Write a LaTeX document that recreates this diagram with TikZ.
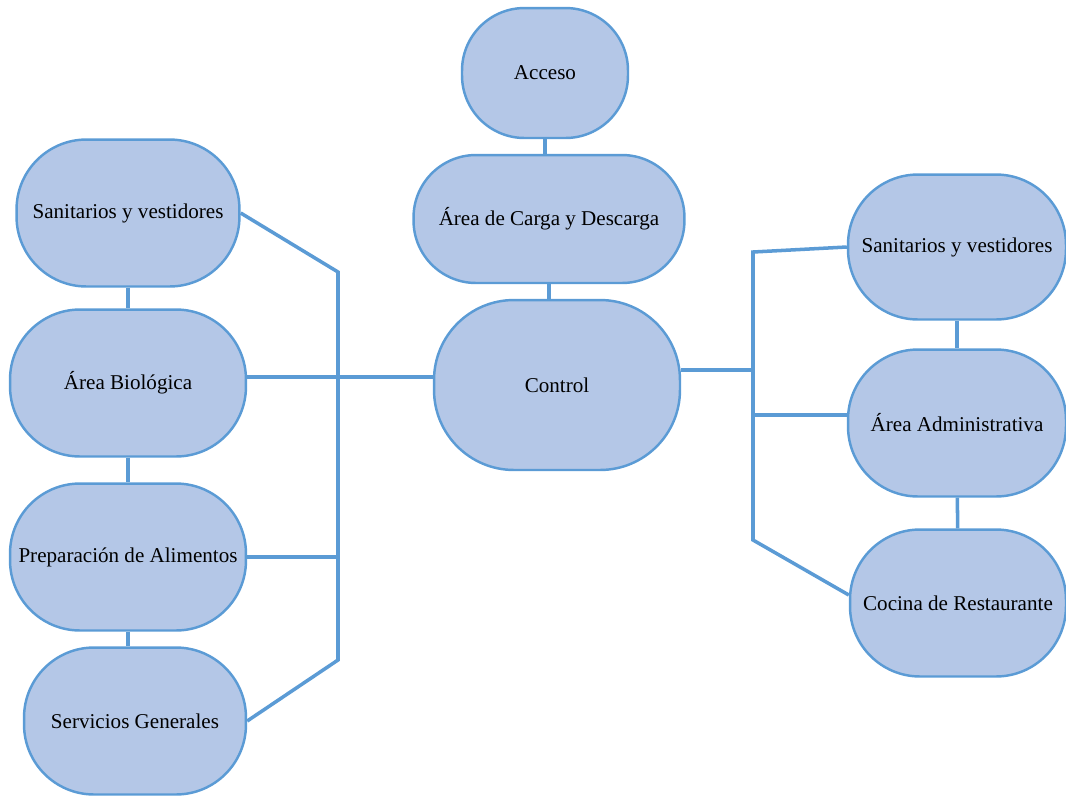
\documentclass[tikz,border=0pt]{standalone}
\usepackage{fontspec}
\setmainfont{Liberation Serif}
\usepackage{tikz}
\usetikzlibrary{positioning,calc}
\definecolor{cajaAzul}{HTML}{B4C7E7}
\definecolor{bordeAzul}{HTML}{5B9BD5}

\begin{document}
\begin{tikzpicture}[x=0.02cm, y=-0.02cm, font=\fontsize{12}{14}\selectfont,
  zona/.style={draw=bordeAzul, fill=cajaAzul, line width=1.4pt, rounded corners=1.4cm, align=center, inner sep=2pt},
  enlace/.style={draw=bordeAzul, line width=2pt}]
  \useasboundingbox (0,0) rectangle (1066,796);
  % columna central
  \node[zona, rounded corners=1.25cm, minimum width=3.32cm, minimum height=2.6cm] (acceso) at (545,73) {Acceso};
  \node[zona, rounded corners=1.25cm, minimum width=5.42cm, minimum height=2.56cm] (carga) at (549,219) {Área de Carga y Descarga};
  \node[zona, rounded corners=1.6cm, minimum width=4.92cm, minimum height=3.4cm] (control) at (557,385) {Control};
  % columna izquierda
  \node[zona, minimum width=4.46cm, minimum height=2.94cm] (sanIzq) at (128,213) {Sanitarios y vestidores};
  \node[zona, minimum width=4.72cm, minimum height=2.94cm] (bio) at (128,383) {Área Biológica};
  \node[zona, minimum width=4.72cm, minimum height=2.94cm] (prep) at (128,557) {Preparación de Alimentos};
  \node[zona, minimum width=4.44cm, minimum height=2.94cm] (servicios) at (135,721) {Servicios Generales};
  % columna derecha
  \node[zona, minimum width=4.36cm, minimum height=2.9cm] (sanDer) at (957,247) {Sanitarios y vestidores};
  \node[zona, minimum width=4.36cm, minimum height=2.94cm] (admin) at (957,423) {Área Administrativa};
  \node[zona, minimum width=4.32cm, minimum height=2.94cm] (cocina) at (958,603) {Cocina de Restaurante};
  % puntos de las barras
  \coordinate (izqArriba) at (338,272);
  \coordinate (izqAbajo) at (338,660);
  \coordinate (derArriba) at (753,252);
  \coordinate (derAbajo) at (753,540);
  % enlaces verticales
  \draw[enlace] (acceso.south) -- (acceso.south |- carga.north);
  \draw[enlace] (carga.south) -- (carga.south |- control.north);
  \draw[enlace] (sanIzq) -- (bio);
  \draw[enlace] (bio) -- (prep);
  \draw[enlace] (prep.south) -- (prep.south |- servicios.north);
  \draw[enlace] (sanDer) -- (admin);
  \draw[enlace] (admin) -- (cocina);
  % barra izquierda
  \draw[enlace] (sanIzq.east) -- (izqArriba) -- (izqAbajo) -- (servicios.east);
  \draw[enlace] ($(bio.east)+(0,-6)$) -- ($(bio.east -| control.west)+(0,-6)$);
  \draw[enlace] (prep.east) -- (prep.east -| izqArriba);
  % barra derecha
  \draw[enlace] ($(control.east)+(0,-15)$) -- ($(control.east -| derArriba)+(0,-15)$);
  \draw[enlace] (sanDer.west) -- (derArriba) -- (derAbajo) -- ($(cocina.west)+(0,-8)$);
  \draw[enlace] ($(admin.west -| derArriba)+(0,-8)$) -- ($(admin.west)+(0,-8)$);
\end{tikzpicture}
\end{document}
